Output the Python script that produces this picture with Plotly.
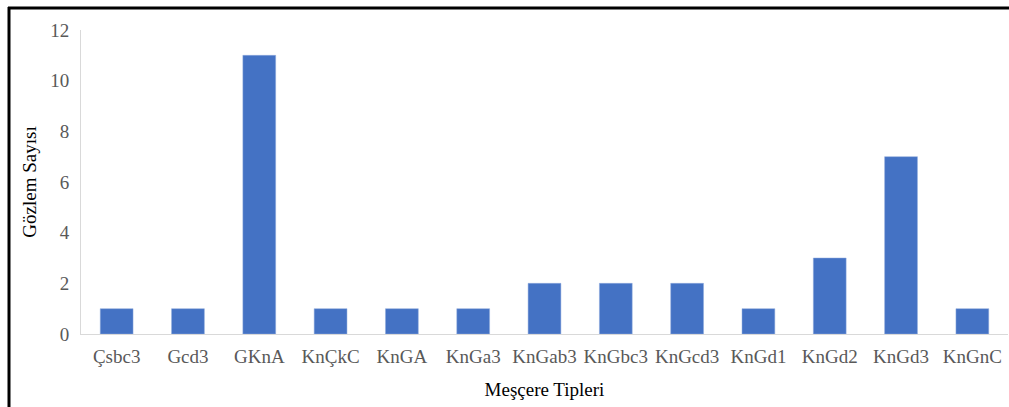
import plotly.graph_objects as go

# Meşçere tipleri ve gözlem sayıları
categories = ["Çsbc3", "Gcd3", "GKnA", "KnÇkC", "KnGA", "KnGa3", "KnGab3",
              "KnGbc3", "KnGcd3", "KnGd1", "KnGd2", "KnGd3", "KnGnC"]
counts = [1, 1, 11, 1, 1, 1, 2, 2, 2, 1, 3, 7, 1]
y_ticks = [0, 2, 4, 6, 8, 10, 12]

W, H = 1009, 407
L, R, T, B = 81, 1, 30, 73
pw, ph = W - L - R, H - T - B

def px_x(px):
    return (px - L) / pw

def px_y(py):
    return (H - B - py) / ph

serif = "Liberation Serif, Times New Roman, serif"
FS = 19

fig = go.Figure(go.Bar(
    x=categories, y=counts,
    marker=dict(color="#4472C4", line=dict(color="#8faadc", width=0.5)),
    width=0.46,
))

fig.update_layout(
    width=W, height=H,
    margin=dict(l=L, r=R, t=T, b=B),
    paper_bgcolor="white", plot_bgcolor="white",
    showlegend=False,
    font=dict(family=serif, size=FS, color="#595959"),
    xaxis=dict(
        showline=True, linecolor="#d9d9d9", linewidth=1,
        showgrid=False, ticks="outside", ticklen=5, tickcolor="rgba(0,0,0,0)",
        tickfont=dict(family=serif, size=FS, color="#595959"),
        title=dict(text="Meşçere Tipleri", font=dict(family=serif, size=FS, color="#000000"),
                   standoff=16),
    ),
    yaxis=dict(
        range=[0, 12], tickvals=y_ticks,
        showline=True, linecolor="#d9d9d9", linewidth=1,
        showgrid=False, zeroline=False,
        ticks="outside", ticklen=7, tickcolor="rgba(0,0,0,0)",
        tickfont=dict(family=serif, size=FS, color="#595959"),
        title=dict(text="Gözlem Sayısı", font=dict(family=serif, size=FS, color="#000000"),
                   standoff=8),
    ),
    shapes=[
        # çerçeve: sol ve üst kenar
        dict(type="line", xref="paper", yref="paper",
             x0=px_x(9), x1=px_x(9), y0=px_y(7), y1=px_y(H + 5),
             line=dict(color="black", width=3)),
        dict(type="line", xref="paper", yref="paper",
             x0=px_x(8), x1=px_x(W + 5), y0=px_y(8), y1=px_y(8),
             line=dict(color="black", width=3)),
    ],
)

fig.write_html("out.html")
